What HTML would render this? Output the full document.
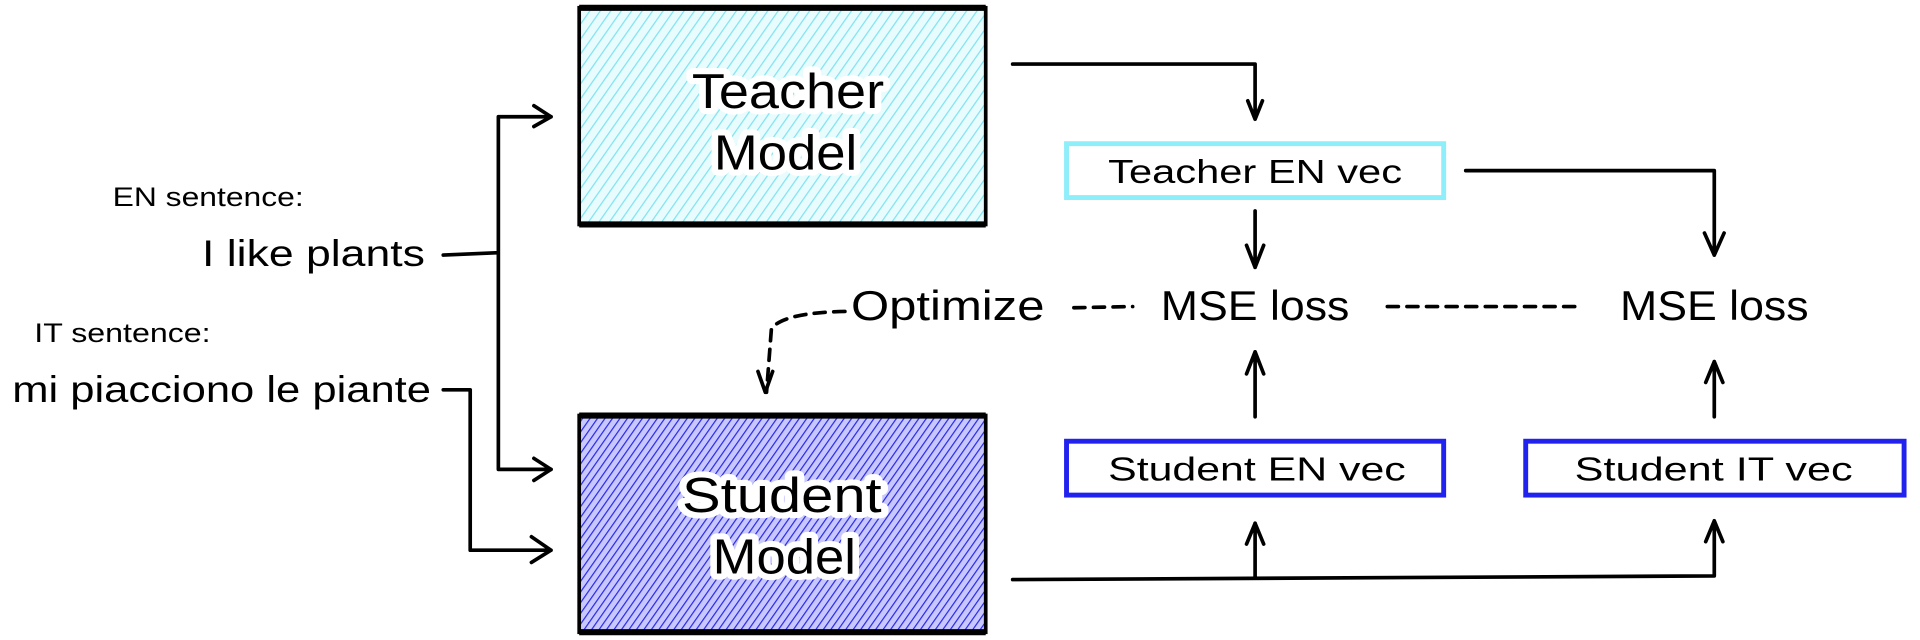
<!DOCTYPE html>
<html><head><meta charset="utf-8"><style>
html,body{margin:0;padding:0;background:#fff;width:1920px;height:640px;overflow:hidden}
svg{display:block}
text{font-family:"Liberation Sans",sans-serif;fill:#000}
</style></head><body>
<svg width="1920" height="640" viewBox="0 0 1568 522" xmlns="http://www.w3.org/2000/svg">
<defs>
<pattern id="hc" width="7" height="7" patternUnits="userSpaceOnUse" patternTransform="rotate(35)">
<rect width="7" height="7" fill="#e8fbfd"/><line x1="0" y1="0" x2="0" y2="7" stroke="#7fe3f2" stroke-width="2"/></pattern>
<pattern id="hb" width="5" height="5" patternUnits="userSpaceOnUse" patternTransform="rotate(35)">
<rect width="5" height="5" fill="#c8c8ff"/><line x1="0" y1="0" x2="0" y2="5" stroke="#2a2ae6" stroke-width="2"/></pattern>
</defs>
<rect x="473" y="6" width="332" height="177" fill="url(#hc)" stroke="#000" stroke-width="3"/>
<line x1="473" y1="6" x2="805" y2="6" stroke="#000" stroke-width="5"/>
<line x1="473" y1="183" x2="805" y2="183" stroke="#000" stroke-width="5"/>
<rect x="473" y="339" width="332" height="177" fill="url(#hb)" stroke="#000" stroke-width="3"/>
<line x1="473" y1="339" x2="805" y2="339" stroke="#000" stroke-width="5"/>
<line x1="473" y1="516" x2="805" y2="516" stroke="#000" stroke-width="5"/>
<g style="paint-order:stroke" stroke="#fff" stroke-width="10" stroke-linejoin="round">
<text x="565" y="88" font-size="40" textLength="157" lengthAdjust="spacingAndGlyphs">Teacher</text>
<text x="583" y="138" font-size="40" textLength="117" lengthAdjust="spacingAndGlyphs">Model</text>
<text x="557" y="418" font-size="40" textLength="163" lengthAdjust="spacingAndGlyphs">Student</text>
<text x="582" y="468" font-size="40" textLength="117" lengthAdjust="spacingAndGlyphs">Model</text>
</g>
<rect x="871" y="117" width="308" height="44" fill="#fff" stroke="#8eeefa" stroke-width="4"/>
<rect x="871" y="360" width="308" height="44" fill="#fff" stroke="#2222ee" stroke-width="4"/>
<rect x="1246" y="360" width="309" height="44" fill="#fff" stroke="#2222ee" stroke-width="4"/>
<text x="905" y="149" font-size="27" textLength="240" lengthAdjust="spacingAndGlyphs">Teacher EN vec</text>
<text x="905" y="392" font-size="27" textLength="243" lengthAdjust="spacingAndGlyphs">Student EN vec</text>
<text x="1286" y="392" font-size="27" textLength="227" lengthAdjust="spacingAndGlyphs">Student IT vec</text>
<text x="92" y="168" font-size="22" textLength="156" lengthAdjust="spacingAndGlyphs">EN sentence:</text>
<text x="165" y="217" font-size="30" textLength="182" lengthAdjust="spacingAndGlyphs">I like plants</text>
<text x="28" y="279" font-size="22" textLength="144" lengthAdjust="spacingAndGlyphs">IT sentence:</text>
<text x="10" y="328" font-size="30" textLength="342" lengthAdjust="spacingAndGlyphs">mi piacciono le piante</text>
<text x="695" y="261" font-size="34" textLength="158" lengthAdjust="spacingAndGlyphs">Optimize</text>
<text x="948" y="261" font-size="34" textLength="154" lengthAdjust="spacingAndGlyphs">MSE loss</text>
<text x="1323" y="261" font-size="34" textLength="154" lengthAdjust="spacingAndGlyphs">MSE loss</text>
<g fill="none" stroke="#000" stroke-width="3" stroke-linecap="round" stroke-linejoin="round">
<path d="M362 208 L407 206 M407 95 L407 383 M407 95 L450 95 M407 383 L450 383"/>
<path d="M436 86 L450 95 L436 103 M436 374 L450 383 L436 392"/>
<path d="M362 318 L384 318 L384 449 L450 449 M434 438 L450 449 L434 459"/>
<path d="M827 52 L1025 52 L1025 97 M1019 82 L1025 97 L1031 82"/>
<path d="M1197 139 L1400 139 L1400 208 M1392 190 L1400 208 L1408 190"/>
<path d="M1025 172 L1025 218 M1018 200 L1025 218 L1032 200"/>
<path d="M1025 340 L1025 287 M1018 305 L1025 287 L1032 305"/>
<path d="M1400 340 L1400 295 M1393 312 L1400 295 L1407 312"/>
<path d="M827 473 L1400 470 M1025 472 L1025 427 M1018 444 L1025 427 L1032 444 M1400 470 L1400 425 M1393 442 L1400 425 L1407 442"/>
<path d="M877 251 L925 250 M1133 250 L1290 250" stroke-dasharray="9 7"/>
<path d="M690 254 Q640 255 630 268 L626 320" stroke-dasharray="9 7"/>
<path d="M619 303 L625 320 L631 303"/>
</g>
</svg>
</body></html>
